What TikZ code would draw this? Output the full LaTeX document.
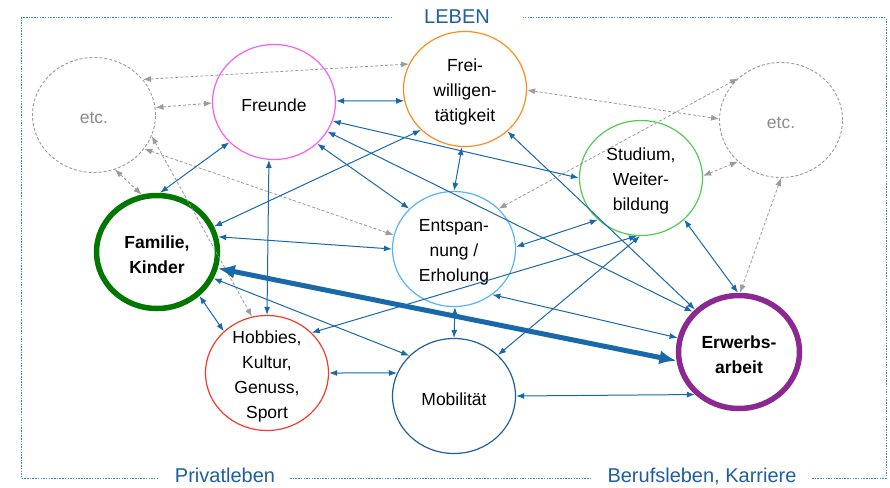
\documentclass[tikz,border=0pt]{standalone}
\usepackage{fontspec}
\setmainfont{Liberation Sans}
\usetikzlibrary{shapes.geometric,arrows.meta}

\definecolor{framblue}{RGB}{60,140,200}
\definecolor{labelblue}{RGB}{31,95,160}
\definecolor{linkblue}{RGB}{25,105,170}
\definecolor{etcgray}{RGB}{155,155,155}
\definecolor{etctext}{RGB}{140,140,140}
\definecolor{cfreunde}{RGB}{245,95,245}
\definecolor{cfrei}{RGB}{255,140,30}
\definecolor{cstudium}{RGB}{80,205,80}
\definecolor{centsp}{RGB}{85,180,250}
\definecolor{chobby}{RGB}{240,60,40}
\definecolor{cmobil}{RGB}{30,95,155}
\definecolor{cfamilie}{RGB}{0,120,0}
\definecolor{cerwerb}{RGB}{140,40,145}

\begin{document}
\begin{tikzpicture}[x=1pt,y=-1pt,
  area/.style={ellipse,draw,line width=1.2pt,minimum width=123pt,minimum height=115pt,inner sep=0pt},
  bigarea/.style={area,line width=5.5pt,minimum width=121pt,minimum height=113pt},
  etcarea/.style={area,draw=etcgray,line width=0.9pt,dash pattern=on 3pt off 2pt},
  caption/.style={align=center,font=\fontsize{17.5}{25}\selectfont,yshift=-3pt,inner sep=0pt},
  boldcaption/.style={caption,font=\fontsize{17.5}{25}\selectfont\bfseries},
  etccaption/.style={caption,text=etctext},
  link/.style={draw=linkblue,line width=1pt,{Latex[length=8pt,width=6pt]}-{Latex[length=8pt,width=6pt]}},
  glink/.style={draw=etcgray,line width=0.8pt,dash pattern=on 3pt off 2pt,{Latex[length=8pt,width=6pt]}-{Latex[length=8pt,width=6pt]}},
  mainlink/.style={draw=linkblue,line width=5pt,{Latex[length=17pt,width=14pt]}-{Latex[length=17pt,width=14pt]}},
  frame/.style={draw=framblue,line width=1pt,dash pattern=on 1.5pt off 1.2pt},
  section/.style={text=labelblue,font=\fontsize{20}{24}\selectfont,inner sep=0pt,anchor=base}
]
\fill[white] (0,0) rectangle (890,487);
\useasboundingbox (0,0) rectangle (890,487);

% outer frame with gaps for the section titles
\draw[frame] (392,18) -- (21,18) -- (21,478) -- (158,478);
\draw[frame] (290,478) -- (590,478);
\draw[frame] (812,478) -- (886,478) -- (886,18) -- (523,18);
\node[section] (leben) at (457,24) {LEBEN};
\node[section] (privat) at (225,482) {Privatleben};
\node[section] (beruf) at (702,482) {Berufsleben, Karriere};

% life areas
\node[etcarea] (etcL) at (94,115) {};
\node[area,draw=cfreunde] (fre) at (274,102) {};
\node[area,draw=cfrei] (frei) at (465,89) {};
\node[etcarea] (etcR) at (781,120) {};
\node[area,draw=cstudium] (stu) at (641,178) {};
\node[bigarea,draw=cfamilie] (fam) at (157,252) {};
\node[area,draw=centsp] (ent) at (454,249) {};
\node[area,draw=chobby] (hob) at (267,373) {};
\node[area,draw=cmobil] (mob) at (454,396) {};
\node[bigarea,draw=cerwerb] (erw) at (739,352) {};

\node[etccaption] (etcL-t) at (etcL) {etc.};
\node[caption] (fre-t) at (fre) {Freunde};
\node[caption] (frei-t) at (frei) {Frei-\\willigen-\\tätigkeit};
\node[etccaption] (etcR-t) at (etcR) {etc.};
\node[caption] (stu-t) at (stu) {Studium,\\Weiter-\\bildung};
\node[boldcaption] (fam-t) at (fam) {Familie,\\Kinder};
\node[caption] (ent-t) at (ent) {Entspan-\\nung /\\Erholung};
\node[caption] (hob-t) at (hob) {Hobbies,\\Kultur,\\Genuss,\\Sport};
\node[caption] (mob-t) at (mob) {Mobilität};
\node[boldcaption] (erw-t) at (erw) {Erwerbs-\\arbeit};

% links to the open "etc." areas
\draw[glink] (etcL.36) -- (frei.156);
\draw[glink] (etcL.7) -- (fre.181);
\draw[glink] (etcL.291) -- (fam.105);
\draw[glink] (etcL.326) -- (ent.167);
\draw[glink] (etcL.340) -- (hob.105);
\draw[glink] (frei.359) -- (etcR.179);
\draw[glink] (ent.42) -- (etcR.136);
\draw[glink] (stu.2) -- (etcR.224);
\draw[glink] (etcR.270) -- (erw.89);

% links between the areas
\draw[link] (fre.1) -- (frei.191);
\draw[link] (fre.222) -- (fam.87);
\draw[link] (fre.265) -- (hob.90);
\draw[link] (fre.342) -- (stu.180);
\draw[link] (fre.331) -- (erw.139);
\draw[link] (fre.316) -- (ent.138);
\draw[link] (frei.223) -- (fam.24);
\draw[link] (frei.267) -- (ent.90);
\draw[link] (frei.315) -- (erw.136);
\draw[link] (fam.14) -- (ent.180);
\draw[link] (fam.314) -- (hob.136);
\draw[link] (fam.335) -- (mob.138);
\draw[link] (hob.42) -- (stu.266);
\draw[link] (hob.0) -- (mob.158);
\draw[link] (ent.2) -- (stu.224);
\draw[link] (ent.271) -- (mob.90);
\draw[link] (ent.310) -- (erw.167);
\draw[link] (mob.43) -- (stu.269);
\draw[link] (mob.0) -- (erw.224);
\draw[link] (stu.316) -- (erw.91);

% main tension: family and paid work
\draw[mainlink] (fam.345) -- (erw.188);
\end{tikzpicture}
\end{document}
